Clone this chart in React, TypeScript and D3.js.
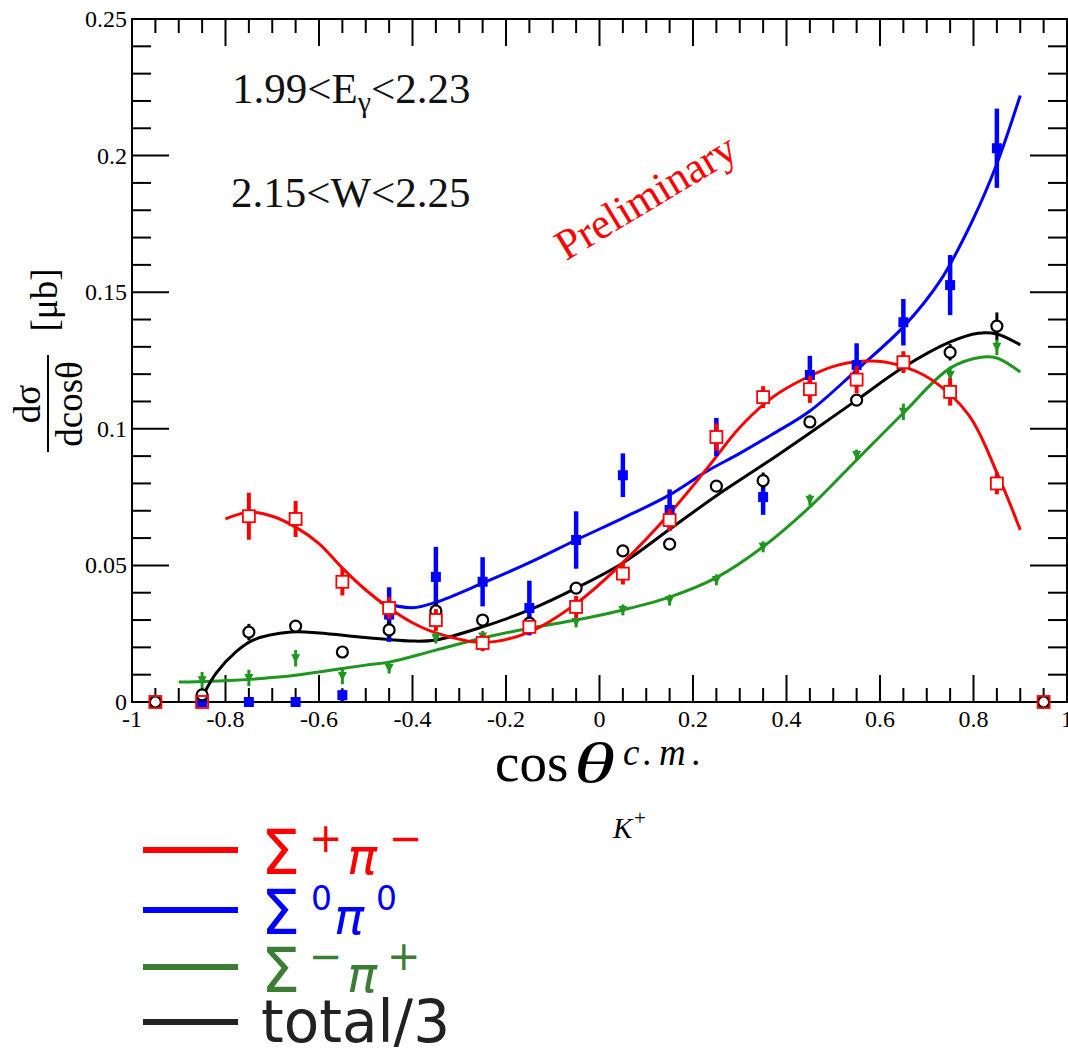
import * as d3 from 'd3';

// bin centres in cos(theta_K+)
const cosBins = [-0.95, -0.85, -0.75, -0.65, -0.55, -0.45, -0.35, -0.25, -0.15, -0.05, 0.05, 0.15, 0.25, 0.35, 0.45, 0.55, 0.65, 0.75, 0.85, 0.95];

// Sigma+ pi-  (red, open squares)
const sigPlusVal = [0, 0, 0.068, 0.067, 0.044, 0.0344, 0.030, 0.0216, 0.0275, 0.0348, 0.047, 0.0666, 0.097, 0.1116, 0.1145, 0.118, 0.1244, 0.1135, 0.080, 0];
const sigPlusErr = [0, 0, 0.0086, 0.0066, 0.005, 0.004, 0.004, 0.003, 0.002, 0.004, 0.004, 0.004, 0.005, 0.004, 0.005, 0.005, 0.004, 0.005, 0.004, 0];

// Sigma0 pi0  (blue, filled squares)
const sigZeroVal = [0, 0, 0, 0, 0.0025, 0.032, 0.0458, 0.044, 0.0344, 0.0593, 0.083, 0.0703, 0.097, 0.075, 0.1197, 0.1233, 0.139, 0.1526, 0.2027, 0];
const sigZeroErr = [0, 0, 0, 0, 0.002, 0.010, 0.011, 0.009, 0.010, 0.0105, 0.008, 0.0075, 0.007, 0.0065, 0.007, 0.008, 0.0085, 0.011, 0.0145, 0];

// Sigma- pi+  (green, filled triangles)
const sigMinusVal = [0, 0.008, 0.0088, 0.016, 0.0095, 0.0124, 0.0234, 0.024, 0.0275, 0.0293, 0.0337, 0.0373, 0.0447, 0.0568, 0.074, 0.0904, 0.1062, 0.1197, 0.130, 0];
const sigMinusErr = [0, 0.003, 0.003, 0.003, 0.003, 0.002, 0.002, 0.002, 0.002, 0.002, 0.002, 0.002, 0.002, 0.002, 0.002, 0.002, 0.003, 0.003, 0.003, 0];

// total / 3  (black, open circles)
const totalVal = [0, 0.0026, 0.0256, 0.0278, 0.0183, 0.0264, 0.0333, 0.030, 0.0289, 0.0417, 0.0553, 0.0578, 0.079, 0.081, 0.1025, 0.1105, 0.124, 0.128, 0.1376, 0];
const totalErr = [0, 0.002, 0.003, 0.002, 0.002, 0.003, 0.003, 0.002, 0.002, 0.002, 0.002, 0.002, 0.002, 0.003, 0.002, 0.002, 0.002, 0.003, 0.005, 0];

// fitted curves
const fitRedX = [-0.8, -0.75, -0.7, -0.65, -0.6, -0.55, -0.5, -0.45, -0.4, -0.35, -0.25, -0.15, -0.05, 0.05, 0.15, 0.23, 0.3, 0.37, 0.44, 0.51, 0.58, 0.64, 0.71, 0.79, 0.85, 0.9];
const fitRedY = [0.067, 0.0695, 0.068, 0.064, 0.058, 0.049, 0.041, 0.0344, 0.029, 0.0253, 0.0218, 0.0256, 0.036, 0.051, 0.069, 0.0855, 0.1005, 0.1115, 0.1185, 0.1233, 0.1248, 0.1233, 0.118, 0.105, 0.084, 0.063];

const fitBlueX = [-0.47, -0.4, -0.35, -0.25, -0.15, -0.05, 0.05, 0.15, 0.23, 0.3, 0.37, 0.45, 0.55, 0.65, 0.73, 0.8, 0.85, 0.9];
const fitBlueY = [0.0365, 0.0345, 0.0365, 0.0435, 0.051, 0.0593, 0.0673, 0.0758, 0.0845, 0.091, 0.098, 0.1065, 0.1215, 0.1373, 0.1545, 0.177, 0.197, 0.222];

const fitBlackX = [-0.85, -0.82, -0.78, -0.74, -0.66, -0.6, -0.5, -0.4, -0.35, -0.25, -0.15, -0.05, 0.05, 0.15, 0.25, 0.35, 0.45, 0.55, 0.65, 0.75, 0.81, 0.85, 0.9];
const fitBlackY = [0.0018, 0.0106, 0.018, 0.0227, 0.0256, 0.0253, 0.0236, 0.0223, 0.0227, 0.0275, 0.0337, 0.0417, 0.0509, 0.0632, 0.0755, 0.0868, 0.0985, 0.1105, 0.1225, 0.1318, 0.135, 0.1347, 0.1307];

const fitGreenX = [-0.9, -0.78, -0.68, -0.6, -0.5, -0.45, -0.35, -0.25, -0.15, -0.05, 0.05, 0.15, 0.25, 0.35, 0.45, 0.55, 0.65, 0.75, 0.82, 0.85, 0.9];
const fitGreenY = [0.0073, 0.008, 0.0092, 0.011, 0.0135, 0.0146, 0.019, 0.0234, 0.027, 0.030, 0.0337, 0.0384, 0.0455, 0.0568, 0.0714, 0.0886, 0.1058, 0.1222, 0.1263, 0.1259, 0.1208];

const RED = '#ff0000';
const BLUE = '#0000ff';
const GREEN = '#1f961f';
const LEGEND_GREEN = '#3b7d35';
const BLACK = '#000000';
const SERIF = '"Liberation Serif", "Times New Roman", serif';
const SANS = '"DejaVu Sans", sans-serif';

const x = d3.scaleLinear().domain([-1, 1]).range([132, 1067]);
const y = d3.scaleLinear().domain([0, 0.25]).range([702, 19]);

const line = d3.line<[number, number]>()
  .x(d => x(d[0]))
  .y(d => y(d[1]))
  .curve(d3.curveCatmullRom.alpha(0.5));

const fitPath = (xs: number[], ys: number[]) => line(xs.map((v, i) => [v, ys[i]] as [number, number])) || '';

const fmt = (v: number) => String(+v.toFixed(2));

export default function App() {
  const [x0, x1] = x.range();
  const [y0, y1] = y.range();

  const xMajor = d3.range(-1, 1.0001, 0.2).map(v => +v.toFixed(2));
  const xMinor = d3.range(-1, 1.0001, 0.05).map(v => +v.toFixed(2));
  const yMajor = d3.range(0, 0.2501, 0.05).map(v => +v.toFixed(3));
  const yMinor = d3.range(0, 0.2501, 0.01).map(v => +v.toFixed(3));

  const errBars = (vals: number[], errs: number[], color: string, w: number) =>
    cosBins.map((c, i) => errs[i] > 0 ? (
      <line key={i} x1={x(c)} x2={x(c)} y1={y(vals[i] - errs[i])} y2={y(vals[i] + errs[i])} stroke={color} strokeWidth={w} />
    ) : null);

  return (
    <svg width={1068} height={1062} style={{ position: 'absolute', left: 0, top: 0, background: '#fff' }}>
      <rect x={0} y={0} width={1068} height={1062} fill="#fff" />

      {/* ticks */}
      <g stroke={BLACK} strokeWidth={2}>
        {xMinor.map(v => {
          const major = xMajor.some(m => Math.abs(m - v) < 1e-6);
          const len = major ? 27 : 14;
          return (
            <g key={'x' + v}>
              <line x1={x(v)} x2={x(v)} y1={y0} y2={y0 - len} />
              <line x1={x(v)} x2={x(v)} y1={y1} y2={y1 + len} />
            </g>
          );
        })}
        {yMinor.map(v => {
          const major = yMajor.some(m => Math.abs(m - v) < 1e-6);
          const len = major ? 37 : 19;
          return (
            <g key={'y' + v}>
              <line x1={x0} x2={x0 + len} y1={y(v)} y2={y(v)} />
              <line x1={x1} x2={x1 - len} y1={y(v)} y2={y(v)} />
            </g>
          );
        })}
      </g>
      <rect x={x0} y={y1} width={x1 - x0} height={y0 - y1} fill="none" stroke={BLACK} strokeWidth={2} />

      {/* tick labels */}
      <g fontFamily={SERIF} fontSize={24} fill={BLACK}>
        {xMajor.map(v => (
          <text key={'xl' + v} x={x(v)} y={727} textAnchor="middle">{fmt(v)}</text>
        ))}
        {yMajor.map(v => (
          <text key={'yl' + v} x={127} y={y(v) + 8} textAnchor="end">{fmt(v)}</text>
        ))}
      </g>

      {/* fitted curves */}
      <g fill="none" strokeWidth={3}>
        <path d={fitPath(fitGreenX, fitGreenY)} stroke={GREEN} />
        <path d={fitPath(fitBlackX, fitBlackY)} stroke={BLACK} />
        <path d={fitPath(fitBlueX, fitBlueY)} stroke={BLUE} />
        <path d={fitPath(fitRedX, fitRedY)} stroke={RED} />
      </g>

      {/* data points */}
      <g>
        {errBars(sigZeroVal, sigZeroErr, BLUE, 4.5)}
        {cosBins.map((c, i) => (
          <rect key={'b' + i} x={x(c) - 5} y={y(sigZeroVal[i]) - 5} width={10} height={10} fill={BLUE} />
        ))}
      </g>
      <g>
        {errBars(sigMinusVal, sigMinusErr, GREEN, 3)}
        {cosBins.map((c, i) => {
          const cx = x(c), cy = y(sigMinusVal[i]);
          return <path key={'g' + i} d={`M${cx - 4.5},${cy - 4}L${cx + 4.5},${cy - 4}L${cx},${cy + 5}Z`} fill={GREEN} />;
        })}
      </g>
      <g>
        {errBars(totalVal, totalErr, BLACK, 3)}
        {cosBins.map((c, i) => (
          <circle key={'k' + i} cx={x(c)} cy={y(totalVal[i])} r={5.5} fill="#fff" stroke={BLACK} strokeWidth={2.2} />
        ))}
      </g>
      <g>
        {errBars(sigPlusVal, sigPlusErr, RED, 4)}
        {cosBins.map((c, i) => (
          <rect key={'r' + i} x={x(c) - 6} y={y(sigPlusVal[i]) - 6} width={12} height={12}
            fill={sigPlusVal[i] > 0 ? '#fff' : 'none'} stroke={RED} strokeWidth={1.8} />
        ))}
      </g>

      {/* in-plot annotations */}
      <g fontFamily={SERIF} fontSize={43} fill="#111">
        <text x={232} y={103}>1.99&lt;E<tspan fontSize={30} dy={9}>γ</tspan><tspan dy={-9}>&lt;2.23</tspan></text>
        <text x={231} y={207}>2.15&lt;W&lt;2.25</text>
      </g>
      <text x={653} y={209} textAnchor="middle" fontFamily={SERIF} fontSize={43} fill={RED}
        transform="rotate(-31 653 209)">Preliminary</text>

      {/* y axis title */}
      <g transform="translate(48,404) rotate(-90)" fontFamily={SERIF} fontSize={37} fill={BLACK}>
        <text x={0} y={-8} textAnchor="middle">dσ</text>
        <line x1={-48} x2={49} y1={0} y2={0} stroke={BLACK} strokeWidth={2} />
        <text x={0} y={34} textAnchor="middle">dcosθ</text>
        <text x={104} y={9} textAnchor="middle">[μb]</text>
      </g>

      {/* x axis title */}
      <text fontFamily={SERIF} fill={BLACK}>
        <tspan x={495} y={781} fontSize={55}>cos</tspan>
        <tspan x={623} y={765} fontSize={37} fontStyle="italic">c</tspan>
        <tspan x={643} y={765} fontSize={37} fontStyle="italic">.</tspan>
        <tspan x={659} y={765} fontSize={37} fontStyle="italic">m</tspan>
        <tspan x={692} y={765} fontSize={37} fontStyle="italic">.</tspan>
        <tspan x={613} y={838} fontSize={29} fontStyle="italic">K</tspan>
        <tspan x={634} y={825} fontSize={21}>+</tspan>
      </text>
      <text transform="translate(574,782) scale(1.5,1)" fontFamily={SERIF} fontSize={56} fontStyle="italic" fill={BLACK}>θ</text>

      {/* legend */}
      <g strokeWidth={6}>
        <line x1={143} x2={238} y1={850} y2={850} stroke={RED} />
        <line x1={143} x2={238} y1={910} y2={910} stroke={BLUE} />
        <line x1={143} x2={238} y1={967} y2={967} stroke={LEGEND_GREEN} />
        <line x1={143} x2={238} y1={1022} y2={1022} stroke="#222" />
      </g>
      <g fontFamily={SANS}>
        <text fill={RED}>
          <tspan x={261} y={874} fontSize={62}>Σ</tspan>
          <tspan x={309} y={852} fontSize={40}>+</tspan>
          <tspan x={347} y={874} fontSize={50} fontStyle="italic">π</tspan>
          <tspan x={389} y={852} fontSize={40}>−</tspan>
        </text>
        <text fill={BLUE}>
          <tspan x={261} y={934} fontSize={62}>Σ</tspan>
          <tspan x={311} y={910} fontSize={33}>0</tspan>
          <tspan x={334} y={934} fontSize={50} fontStyle="italic">π</tspan>
          <tspan x={376} y={910} fontSize={33}>0</tspan>
        </text>
        <text fill={LEGEND_GREEN}>
          <tspan x={261} y={992} fontSize={62}>Σ</tspan>
          <tspan x={309} y={970} fontSize={40}>−</tspan>
          <tspan x={347} y={992} fontSize={50} fontStyle="italic">π</tspan>
          <tspan x={387} y={970} fontSize={40}>+</tspan>
        </text>
        <text x={261} y={1042} fontSize={58} fill="#222">total/3</text>
      </g>
    </svg>
  );
}
